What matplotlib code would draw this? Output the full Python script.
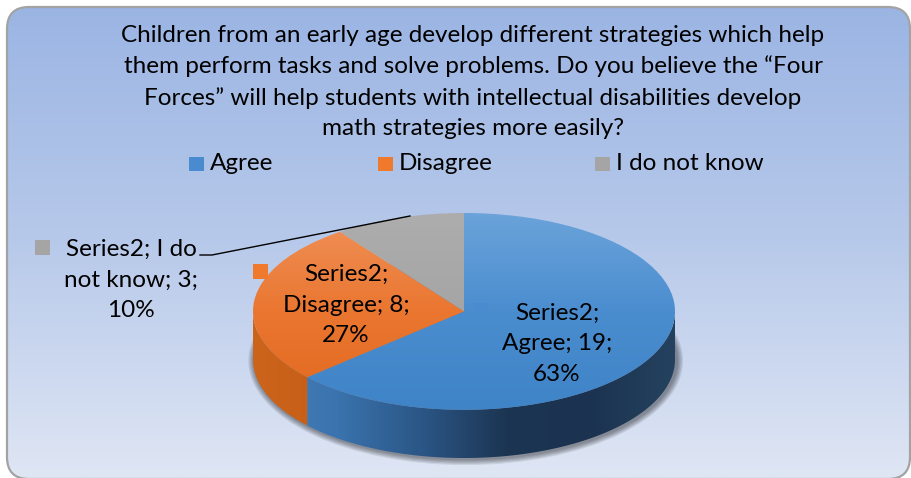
import matplotlib
matplotlib.use("Agg")
import matplotlib.pyplot as plt
import numpy as np
import textwrap
from matplotlib.colors import LinearSegmentedColormap
from matplotlib.patches import FancyBboxPatch, Polygon, Rectangle, Ellipse

# data
title = ("Children from an early age develop different strategies which help\n"
         "them perform tasks and solve problems. Do you believe the \u201cFour\n"
         "Forces\u201d will help students with intellectual disabilities develop\n"
         "math strategies more easily?")
series_name = "Series2"
categories = ["Agree", "Disagree", "I do not know"]
counts = [19, 8, 3]

# style
key_colors = ["#4a8bcf", "#ef7a2e", "#a5a5a5"]
top_colors = [["#6ba3da", "#4a8dcf", "#3f84c7"],
              ["#f0925a", "#ea7630", "#e2691f"],
              ["#adadad", "#a5a5a5", "#9d9d9d"]]
side_colors = [["#4680bd", "#3a73ad", "#2b5686", "#1c3552", "#1b3350", "#24425f"],
               ["#cd641c", "#c65d16", "#c05512", "#b95010", "#b95010", "#b95010"],
               ["#8a8a8a"] * 6]

plt.rcParams["font.family"] = ["Lato", "DejaVu Sans"]
FS = 17.5
LS = 1.55

W, H = 911, 478
fig = plt.figure(figsize=(W / 100, H / 100), dpi=100)
bg = fig.add_axes([0, 0, 1, 1], zorder=0)
bg.set_xlim(0, W)
bg.set_ylim(H, 0)
bg.axis("off")

# rounded chart area with vertical gradient
frame = FancyBboxPatch((7, 7), 903, 472, boxstyle="round,pad=0,rounding_size=22",
                       facecolor="none", edgecolor="#a3a3a3", lw=1.6, zorder=2)
bg.add_patch(frame)
bg_cmap = LinearSegmentedColormap.from_list("bg", ["#9ab4e3", "#b7c9ea", "#dfe6f4"])
im = bg.imshow(np.linspace(0, 1, 256).reshape(-1, 1), extent=(0, W, H, 0),
               aspect="auto", cmap=bg_cmap, zorder=1)
im.set_clip_path(frame)

# pie
D = 48 / 98
pax = fig.add_axes([253 / W, (H - 458) / H, 422 / W, 245 / H], zorder=1)
pax.patch.set_alpha(0)
wedges, _ = pax.pie(counts, startangle=90, counterclock=False, radius=1,
                    wedgeprops=dict(linewidth=0))
pax.set_aspect("auto")
pax.axis("off")

# soft shadow under the pie body
for k in range(1, 6):
    sh = Ellipse((0.008, -D - 0.012), 2 + 0.012 * k, 2 + 0.024 * k, facecolor="black",
                 edgecolor="none", alpha=0.09, zorder=0.5, clip_on=False)
    pax.add_patch(sh)

frac = np.array(counts) / sum(counts)
cum = np.concatenate([[0], np.cumsum(frac)])
for i, w in enumerate(wedges):
    # top face with vertical gradient
    w.set_facecolor("none")
    w.set_zorder(3)
    cm = LinearSegmentedColormap.from_list(f"top{i}", top_colors[i])
    tim = pax.imshow(np.linspace(0, 1, 256).reshape(-1, 1), extent=(-1, 1, -1, 1),
                     aspect="auto", cmap=cm, zorder=3)
    tim.set_clip_path(w)

    # front side
    hi = min(90 - 360 * cum[i], 0)
    lo = max(90 - 360 * cum[i + 1], -180)
    if lo < hi:
        t = np.radians(np.linspace(lo, hi, 200))
        xs, ys = np.cos(t), np.sin(t)
        side = Polygon(np.column_stack([np.r_[xs, xs[::-1]], np.r_[ys, ys[::-1] - D]]),
                       closed=True, facecolor="none", edgecolor="none", zorder=2)
        pax.add_patch(side)
        scm = LinearSegmentedColormap.from_list(f"side{i}", side_colors[i])
        sim = pax.imshow(np.linspace(0, 1, 256).reshape(1, -1), extent=(-1, 1, -1 - D, 0),
                         aspect="auto", cmap=scm, zorder=2)
        sim.set_clip_path(side)
pax.set_xlim(-1, 1)
pax.set_ylim(-1 - D, 1)

# overlay for texts, legend and labels
ov = fig.add_axes([0, 0, 1, 1], zorder=2)
ov.set_xlim(0, W)
ov.set_ylim(H, 0)
ov.axis("off")
ov.patch.set_alpha(0)

ov.text(473, 82, title, ha="center", va="center", fontsize=FS, linespacing=LS)

leg_x = [189, 378, 595]
for i, cat in enumerate(categories):
    ov.add_patch(Rectangle((leg_x[i], 157), 15, 14, facecolor=key_colors[i], edgecolor="none"))
    ov.text(leg_x[i] + 21, 164, cat, ha="left", va="center", fontsize=FS)

total = sum(counts)
lab_pos = [(557, 344), (346, 305), (131, 280)]
key_pos = [(473, 303), (253, 264), (35, 240)]
for i, cat in enumerate(categories):
    txt = f"{series_name}; {cat}; {counts[i]}; {round(100 * counts[i] / total)}%"
    ov.text(lab_pos[i][0], lab_pos[i][1], textwrap.fill(txt, 13), ha="center",
            va="center", fontsize=FS, linespacing=LS)
    ov.add_patch(Rectangle(key_pos[i], 15, 15, facecolor=key_colors[i], edgecolor="none"))

# leader line for the small slice
ov.plot([200, 212, 410], [255, 255, 216], color="black", lw=1)

fig.savefig("out.png", dpi=100)
